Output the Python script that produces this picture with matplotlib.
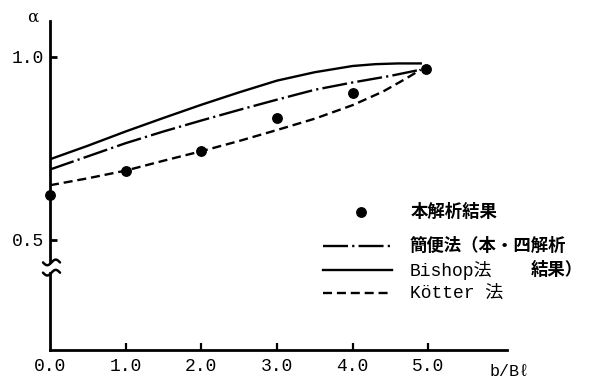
import numpy as np
import matplotlib
matplotlib.use("Agg")
import matplotlib.pyplot as plt
from matplotlib.lines import Line2D

plt.rcParams['lines.scale_dashes'] = False

# ---- data ----
pts_x = [0.0, 1.0, 2.0, 3.0, 4.0, 4.97]
pts_y = [0.622, 0.689, 0.742, 0.833, 0.902, 0.967]

bishop_x = [0.0, 0.5, 1.0, 1.5, 2.0, 2.5, 3.0, 3.5, 4.0, 4.3, 4.6, 4.9]
bishop_y = [0.720, 0.757, 0.796, 0.833, 0.869, 0.903, 0.935, 0.958, 0.975, 0.980, 0.982, 0.982]

simple_x = [0.0, 0.5, 1.0, 1.5, 2.0, 2.5, 3.0, 3.5, 4.0, 4.5, 4.9]
simple_y = [0.692, 0.728, 0.764, 0.796, 0.826, 0.855, 0.883, 0.910, 0.930, 0.948, 0.965]

kotter_x = [0.0, 0.5, 1.0, 1.5, 2.0, 2.5, 3.0, 3.5, 4.0, 4.4, 4.7, 4.9]
kotter_y = [0.649, 0.668, 0.689, 0.716, 0.742, 0.770, 0.800, 0.831, 0.868, 0.905, 0.940, 0.965]

xticks = [0.0, 1.0, 2.0, 3.0, 4.0, 5.0]
xtick_labels = ["0.0", "1.0", "2.0", "3.0", "4.0", "5.0"]
yticks = [0.5, 1.0]
ytick_labels = ["0.5", "1.0"]

label_pts = "本解析結果"
label_simple = "簡便法（本・四解析"
label_simple2 = "結果）"
label_bishop = "Bishop法"
label_kotter = "Kötter 法"

MONO = ['Liberation Mono', 'DejaVu Sans Mono', 'Noto Sans CJK JP', 'DejaVu Sans']
CJK = ['Noto Sans CJK JP', 'DejaVu Sans']

W, H = 593, 382
fig = plt.figure(figsize=(W / 100, H / 100), dpi=100)
ax = fig.add_axes([50 / W, 32 / H, (507 - 50) / W, (361 - 32) / H])
xmax = 6.04
ylo, yhi = 0.1986, 1.098
ax.set_xlim(0, xmax)
ax.set_ylim(ylo, yhi)

for s in ['top', 'right', 'left']:
    ax.spines[s].set_visible(False)
ax.spines['bottom'].set_linewidth(2.0)

# broken y axis
ybreak_hi, ybreak_lo = 0.438, 0.410
fr = lambda v: (v - ylo) / (yhi - ylo)
ax.axvline(0, fr(ybreak_hi), 1.0, color='black', lw=2.0, clip_on=False)
ax.axvline(0, 0.0, fr(ybreak_lo), color='black', lw=2.0, clip_on=False)
dxp = xmax / 457.0
dyp = (yhi - ylo) / 329.0
tx = np.linspace(-7, 10, 40)
for y0 in (ybreak_hi, ybreak_lo):
    ax.plot(tx * dxp, y0 - 2.8 * dyp * np.sin(2 * np.pi * (tx + 7) / 17.0),
            color='black', lw=1.8, clip_on=False, solid_capstyle='round')

ax.set_xticks(xticks)
ax.set_xticklabels(xtick_labels, family=MONO, fontsize=13)
ax.set_yticks(yticks)
ax.set_yticklabels(ytick_labels, family=MONO, fontsize=13)
ax.tick_params(axis='x', direction='in', length=5, width=1.6, pad=6)
ax.tick_params(axis='y', direction='in', length=5, width=2.0, pad=4)
ax.xaxis.get_major_ticks()[0].tick1line.set_visible(False)

# curves
ax.plot(bishop_x, bishop_y, color='black', lw=1.7)
l2, = ax.plot(simple_x, simple_y, color='black', lw=1.7)
l2.set_dashes((18, 3, 1.6, 3))
l3, = ax.plot(kotter_x, kotter_y, color='black', lw=1.7)
l3.set_dashes((6.5, 3.5))
ax.plot(pts_x, pts_y, 'o', color='black', markersize=6.8, clip_on=False)

# axis labels
fig.text(33 / W, 1 - 17 / H, "α", family=['DejaVu Serif'], fontsize=12,
         ha='center', va='center')
fig.text(510 / W, 1 - 372 / H, "b/Bℓ", family=MONO, fontsize=12,
         ha='center', va='center')

# legend (manual)
def fx(px):
    return px / W

def fy(py):
    return 1 - py / H

fig.add_artist(Line2D([fx(361)], [fy(211.5)], marker='o', color='black',
                      markersize=6.8, linestyle='none'))
fig.text(fx(411), fy(211.5), label_pts, family=CJK, fontsize=12.5,
         va='center', weight='bold')

ld = Line2D([fx(323), fx(392)], [fy(246), fy(246)], color='black', lw=1.7)
ld.set_dashes((18, 3, 1.6, 3))
fig.add_artist(ld)
fig.text(fx(410), fy(246), label_simple, family=CJK, fontsize=12.5,
         va='center', weight='bold')
fig.text(fx(583), fy(270), label_simple2, family=CJK, fontsize=12.5,
         va='center', ha='right', weight='bold')

fig.add_artist(Line2D([fx(323), fx(392)], [fy(270), fy(270)], color='black', lw=1.7))
fig.text(fx(410), fy(270), label_bishop, family=MONO, fontsize=13, va='center')

lk = Line2D([fx(323), fx(392)], [fy(293), fy(293)], color='black', lw=1.7)
lk.set_dashes((6.5, 3.5))
fig.add_artist(lk)
fig.text(fx(410), fy(293), label_kotter, family=MONO, fontsize=13, va='center')

fig.savefig("out.png", dpi=100)
